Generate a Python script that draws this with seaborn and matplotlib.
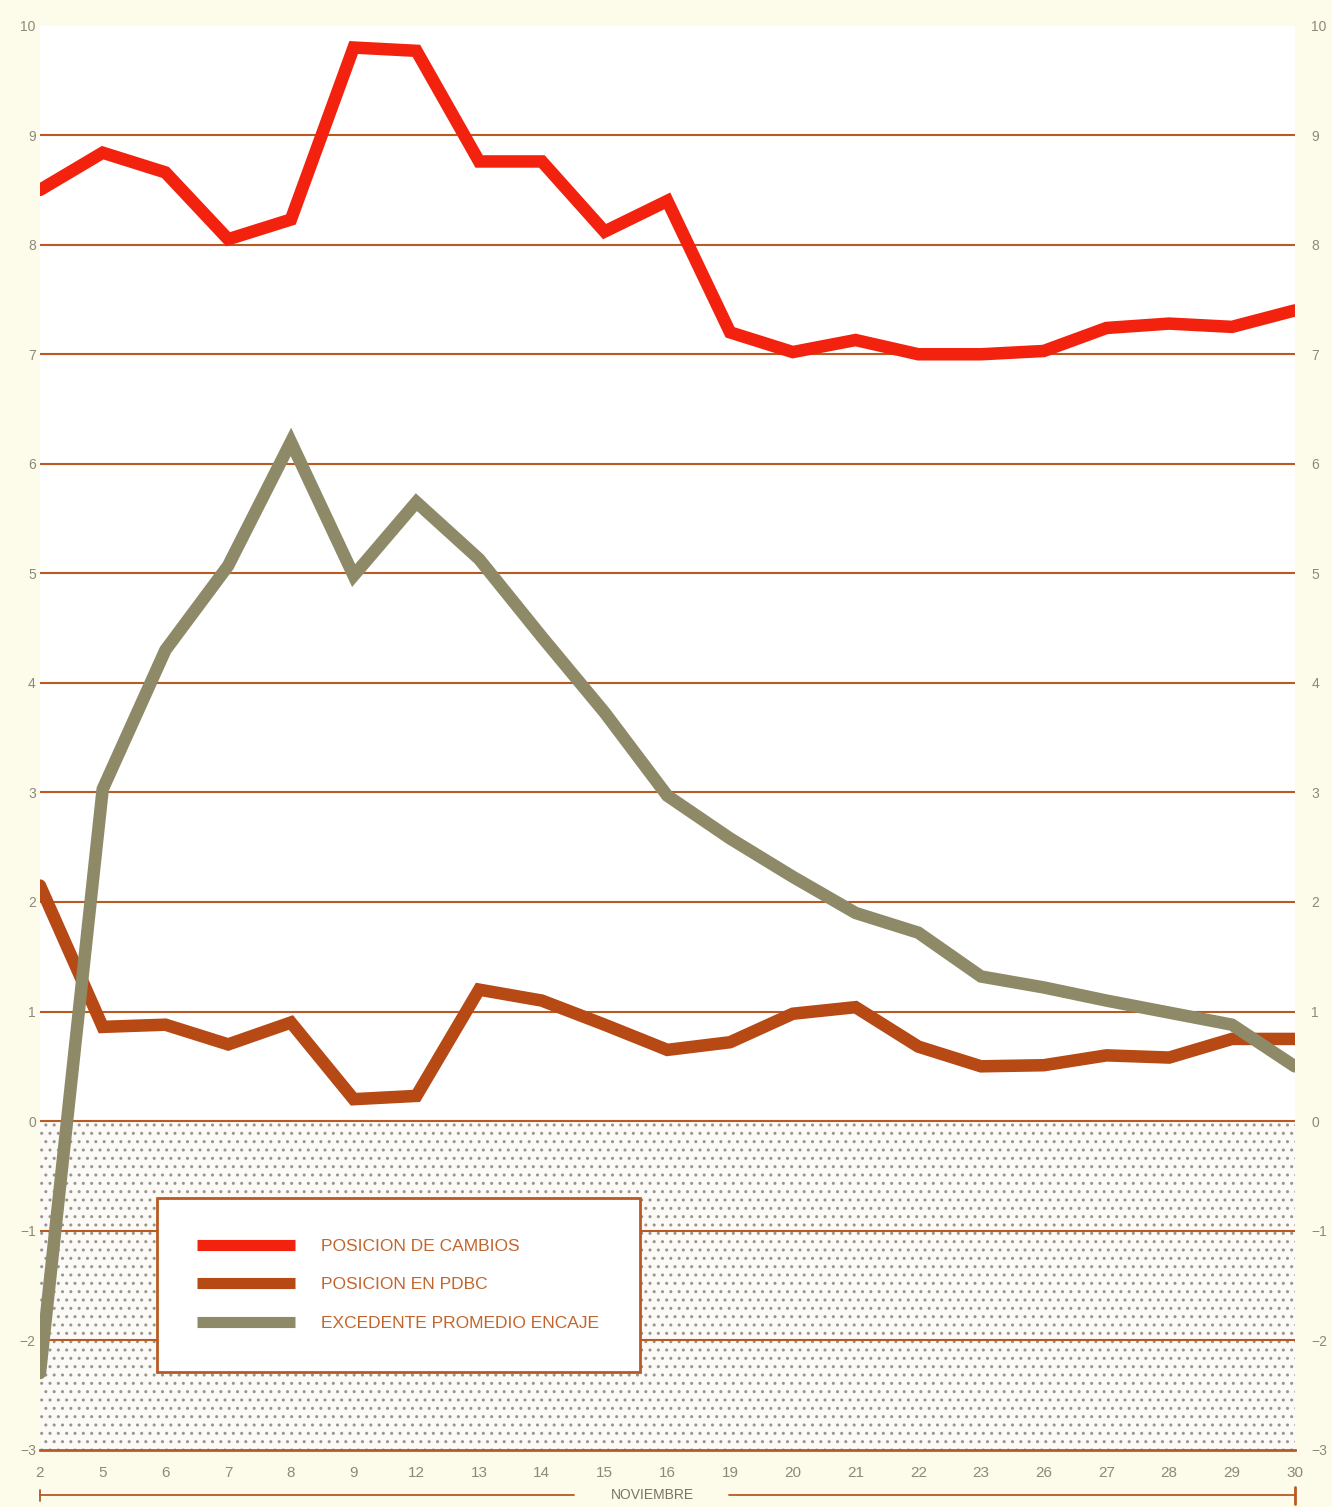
import pandas as pd
import numpy as np
import matplotlib.pyplot as plt
from matplotlib.lines import Line2D
import seaborn as sns

# dias habiles de noviembre
dias = ['2', '5', '6', '7', '8', '9', '12', '13', '14', '15', '16',
        '19', '20', '21', '22', '23', '26', '27', '28', '29', '30']

cambios = [8.5, 8.84, 8.66, 8.05, 8.23, 9.8, 9.77, 8.76, 8.76, 8.12, 8.4,
           7.2, 7.02, 7.13, 7.0, 7.0, 7.03, 7.24, 7.28, 7.25, 7.4]
pdbc = [2.15, 0.86, 0.88, 0.7, 0.9, 0.2, 0.23, 1.2, 1.1, 0.88, 0.65,
        0.72, 0.98, 1.04, 0.68, 0.5, 0.51, 0.6, 0.58, 0.75, 0.75]
encaje = [-2.3, 3.03, 4.3, 5.07, 6.2, 4.98, 5.65, 5.13, 4.42, 3.73, 2.97,
          2.58, 2.23, 1.9, 1.72, 1.32, 1.22, 1.1, 0.99, 0.88, 0.5]

series = ['POSICION DE CAMBIOS', 'POSICION EN PDBC', 'EXCEDENTE PROMEDIO ENCAJE']
colores = {'POSICION DE CAMBIOS': '#f2220f',
           'POSICION EN PDBC': '#b64914',
           'EXCEDENTE PROMEDIO ENCAJE': '#8e8a68'}

df = pd.DataFrame({
    'dia': dias * 3,
    'valor': cambios + pdbc + encaje,
    'serie': [series[0]] * len(dias) + [series[1]] * len(dias) + [series[2]] * len(dias),
})

sns.set_style('white')
plt.rcParams['font.family'] = ['Liberation Sans', 'DejaVu Sans']

crema = '#fdfbea'
marron = '#b85a22'
gris_txt = '#8f8878'

fig = plt.figure(figsize=(13.32, 15.07), dpi=100, facecolor=crema)
ax = fig.add_axes([0.030, 0.038, 0.942, 0.945])
ax.set_facecolor('white')

# zona negativa punteada
ax.axhspan(-3, 0, facecolor='#fbfaf6', edgecolor='#9a958c', hatch='..', lw=0, zorder=0)

# lineas horizontales
for v in range(-2, 10):
    ax.axhline(v, color=marron, lw=1.5, zorder=1)

sns.lineplot(data=df, x='dia', y='valor', hue='serie', hue_order=series,
             palette=colores, linewidth=9, sort=False, legend=False, ax=ax,
             zorder=3)
for ln in ax.get_lines():
    ln.set_solid_joinstyle('miter')

ax.set_xlim(0, len(dias) - 1)
ax.set_ylim(-3, 10)
ax.set_xlabel('')
ax.set_ylabel('')

for s in ['top', 'right', 'left']:
    ax.spines[s].set_visible(False)
ax.spines['bottom'].set_color(marron)
ax.spines['bottom'].set_linewidth(2)

ax.set_yticks(range(-3, 11))
ax.tick_params(axis='y', length=0, pad=3, labelsize=10, labelcolor=gris_txt)
ax.tick_params(axis='x', direction='out', length=8, width=1.5, color=marron,
               pad=4, labelsize=11, labelcolor=gris_txt)

ax2 = ax.twinx()
ax2.set_ylim(-3, 10)
ax2.set_yticks(range(-3, 11))
for s in ax2.spines.values():
    s.set_visible(False)
ax2.tick_params(axis='y', length=0, pad=12, labelsize=10, labelcolor=gris_txt)

# leyenda
handles = [Line2D([], [], color=colores[s], lw=8, solid_capstyle='butt') for s in series]
leg = ax.legend(handles, series, loc='upper left', bbox_to_anchor=(0.093, 0.177),
                borderaxespad=0, borderpad=2.35, handlelength=5.6, handletextpad=1.5,
                labelspacing=1.35, fontsize=12.5, frameon=True, fancybox=False,
                framealpha=1, facecolor='white', edgecolor=marron)
leg.get_frame().set_linewidth(2)
for t in leg.get_texts():
    t.set_color('#c2652c')

# NOVIEMBRE
yb = -0.032
ax.plot([0, 0.426], [yb, yb], color=marron, lw=1.3, transform=ax.transAxes, clip_on=False)
ax.plot([0.549, 1.0], [yb, yb], color=marron, lw=1.3, transform=ax.transAxes, clip_on=False)
ax.plot([0, 0], [yb - 0.004, yb + 0.004], color=marron, lw=1.3, transform=ax.transAxes, clip_on=False)
ax.plot([1, 1], [yb - 0.006, yb + 0.006], color=marron, lw=2, transform=ax.transAxes, clip_on=False)
ax.text(0.488, yb, 'NOVIEMBRE', transform=ax.transAxes, ha='center', va='center',
        fontsize=10, color='#7a7468')

fig.savefig('out.png', dpi=100, facecolor=crema)
